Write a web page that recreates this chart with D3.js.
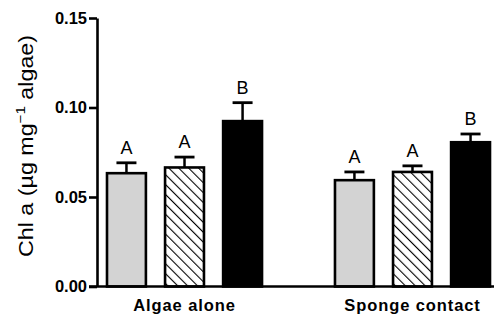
<!DOCTYPE html>
<html><head><meta charset="utf-8">
<script src="https://cdn.jsdelivr.net/npm/d3@7"></script>
<style>body{margin:0;background:#fff}svg{display:block}</style>
</head><body><svg id="c" width="494" height="315"></svg>
<script>
const groups = ["Algae alone", "Sponge contact"];
const treatments = ["gray", "hatched", "black"];
const means = [[0.0633, 0.0665, 0.0924], [0.0594, 0.0640, 0.0806]];
const errs = [[0.0058, 0.0058, 0.0103], [0.0046, 0.0034, 0.0046]];
const letters = [["A", "A", "B"], ["A", "A", "B"]];
const yTicks = [0, 0.05, 0.10, 0.15];

const FONT = "Liberation Sans, Arial, sans-serif";
const svg = d3.select("#c");
const ax = 97, y0 = 286.5, yTop = 18;
const y = d3.scaleLinear().domain([0, 0.15]).range([y0, yTop]);
const xg = d3.scaleBand().domain(groups).range([107, 490]).paddingInner(0.32).paddingOuter(0);
const xi = d3.scaleBand().domain(treatments).range([0, xg.bandwidth()]).paddingInner(0.33).paddingOuter(0);

const defs = svg.append("defs");
const pat = defs.append("pattern").attr("id", "hatch").attr("patternUnits", "userSpaceOnUse")
  .attr("width", 7).attr("height", 7).attr("patternTransform", "rotate(-45)");
pat.append("rect").attr("width", 7).attr("height", 7).attr("fill", "#fff");
pat.append("line").attr("x1", 0).attr("y1", 0).attr("x2", 0).attr("y2", 7).attr("stroke", "#000").attr("stroke-width", 2.2);

const fills = {gray: "#d3d3d3", hatched: "url(#hatch)", black: "#000"};

groups.forEach((g, gi) => {
  treatments.forEach((t, ti) => {
    const x = xg(g) + xi(t), w = xi.bandwidth(), v = means[gi][ti], e = errs[gi][ti];
    const cx = x + w / 2;
    svg.append("line").attr("x1", cx).attr("x2", cx).attr("y1", y(v)).attr("y2", y(v + e)).attr("stroke", "#000").attr("stroke-width", 2.5);
    svg.append("line").attr("x1", cx - 10).attr("x2", cx + 10).attr("y1", y(v + e)).attr("y2", y(v + e)).attr("stroke", "#000").attr("stroke-width", 2.8);
    svg.append("rect").attr("x", x).attr("y", y(v)).attr("width", w).attr("height", y0 - y(v))
      .attr("fill", fills[t]).attr("stroke", "#000").attr("stroke-width", 2.6);
    svg.append("text").attr("x", cx).attr("y", y(v + e) - 9).attr("text-anchor", "middle")
      .attr("font-family", FONT).attr("font-size", 18).text(letters[gi][ti]);
  });
});

const yAxis = d3.axisLeft(y).tickValues(yTicks).tickFormat(d3.format(".2f")).tickSize(8).tickSizeOuter(0).tickPadding(2);
const ga = svg.append("g").attr("transform", `translate(${ax},0)`).call(yAxis);
ga.select(".domain").attr("stroke-width", 2.6);
ga.selectAll(".tick line").attr("stroke-width", 2.6);
ga.selectAll(".tick text").attr("font-family", FONT).attr("font-weight", "bold").attr("font-size", 16.5).attr("fill", "#000");

svg.append("line").attr("x1", ax - 8).attr("x2", 494).attr("y1", y0).attr("y2", y0).attr("stroke", "#000").attr("stroke-width", 2.6);

const xAxis = d3.axisBottom(xg).tickSize(0);
const gx = svg.append("g").attr("transform", `translate(0,${y0})`).call(xAxis);
gx.select(".domain").remove();
gx.selectAll(".tick text").attr("font-family", FONT).attr("font-weight", "bold").attr("font-size", 16.5)
  .attr("letter-spacing", 0.9).attr("fill", "#000").attr("dy", 0).attr("y", 24);

const lab = svg.append("text").attr("transform", "translate(33,146) rotate(-90)").attr("text-anchor", "middle")
  .attr("font-family", FONT).attr("font-size", 20).attr("textLength", 222).attr("lengthAdjust", "spacingAndGlyphs");
lab.append("tspan").text("Chl a (µg mg");
lab.append("tspan").attr("font-size", 13).attr("dy", -8).text("−1");
lab.append("tspan").attr("dy", 8).text(" algae)");
</script></body></html>
